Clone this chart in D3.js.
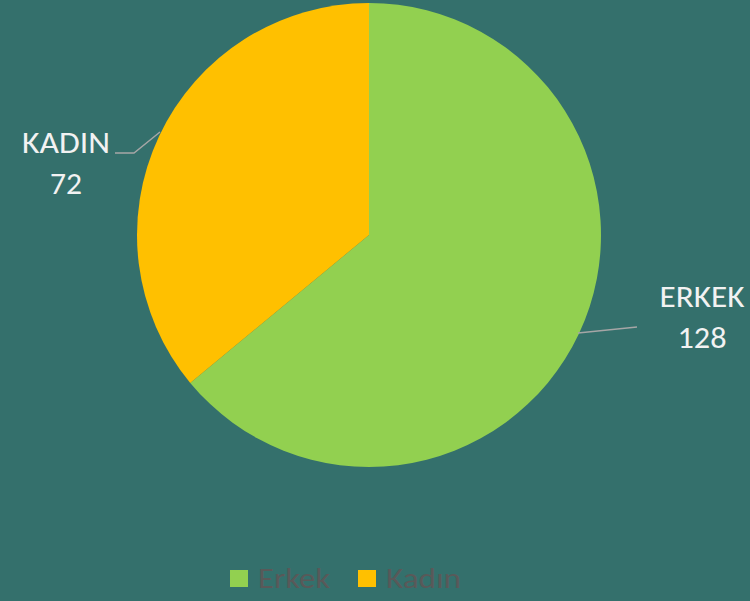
<!DOCTYPE html>
<html>
<head>
<meta charset="utf-8">
<script src="https://cdn.jsdelivr.net/npm/d3@7"></script>
<style>
  body { margin: 0; background: #34706c; }
  svg { display: block; font-family: Calibri, Carlito, "Liberation Sans", sans-serif; }
</style>
</head>
<body>
<div id="root"></div>
<script>
const categories = ['Erkek', 'Kadın'];
const labels = ['ERKEK', 'KADIN'];
const values = [128, 72];
const colors = ['#92d050', '#ffc000'];

const width = 750, height = 601;
const cx = 369, cy = 235, radius = 232;

const chart = d3.select('#root')
  .append('svg')
  .attr('width', width)
  .attr('height', height);

chart.append('rect')
  .attr('width', width)
  .attr('height', height)
  .attr('fill', '#34706c');

const pie = d3.pie().sort(null).value(d => d);
const arcs = pie(values);
const arc = d3.arc().innerRadius(0).outerRadius(radius);

const g = chart.append('g').attr('transform', `translate(${cx},${cy})`);

g.selectAll('path')
  .data(arcs)
  .enter()
    .append('path')
    .attr('d', arc)
    .attr('fill', (d, i) => colors[i]);

// leader lines + labels, placed outside like the original
const labelPos = [
  { x: 702, name: 307, num: 348, nameW: 85, numW: 49, line: [[578, 333], [637, 327]] },
  { x: 66, name: 153, num: 194, nameW: 88, numW: 32, line: [[160, 132], [134, 153], [115, 153]] }
];

const lbl = chart.append('g');
arcs.forEach((d, i) => {
  const p = labelPos[i];
  lbl.append('path')
    .attr('d', d3.line()(p.line))
    .attr('fill', 'none')
    .attr('stroke', '#a6a6a6')
    .attr('stroke-width', 1.5);
  lbl.append('text')
    .attr('x', p.x)
    .attr('y', p.name)
    .attr('text-anchor', 'middle')
    .attr('fill', '#f2f2f2')
    .attr('font-size', 30)
    .attr('textLength', p.nameW)
    .attr('lengthAdjust', 'spacingAndGlyphs')
    .text(labels[i]);
  lbl.append('text')
    .attr('x', p.x)
    .attr('y', p.num)
    .attr('text-anchor', 'middle')
    .attr('fill', '#f2f2f2')
    .attr('font-size', 30)
    .attr('textLength', p.numW)
    .attr('lengthAdjust', 'spacingAndGlyphs')
    .text(values[i]);
});

// legend
const legendX = [230, 358];
const legendW = [72, 75];
const legend = chart.append('g');
categories.forEach((c, i) => {
  legend.append('rect')
    .attr('x', legendX[i])
    .attr('y', 570)
    .attr('width', 18)
    .attr('height', 17)
    .attr('fill', colors[i]);
  legend.append('text')
    .attr('x', legendX[i] + 28)
    .attr('y', 588)
    .attr('fill', '#595959')
    .attr('font-size', 29)
    .attr('textLength', legendW[i])
    .attr('lengthAdjust', 'spacingAndGlyphs')
    .text(c);
});
</script>
</body>
</html>
